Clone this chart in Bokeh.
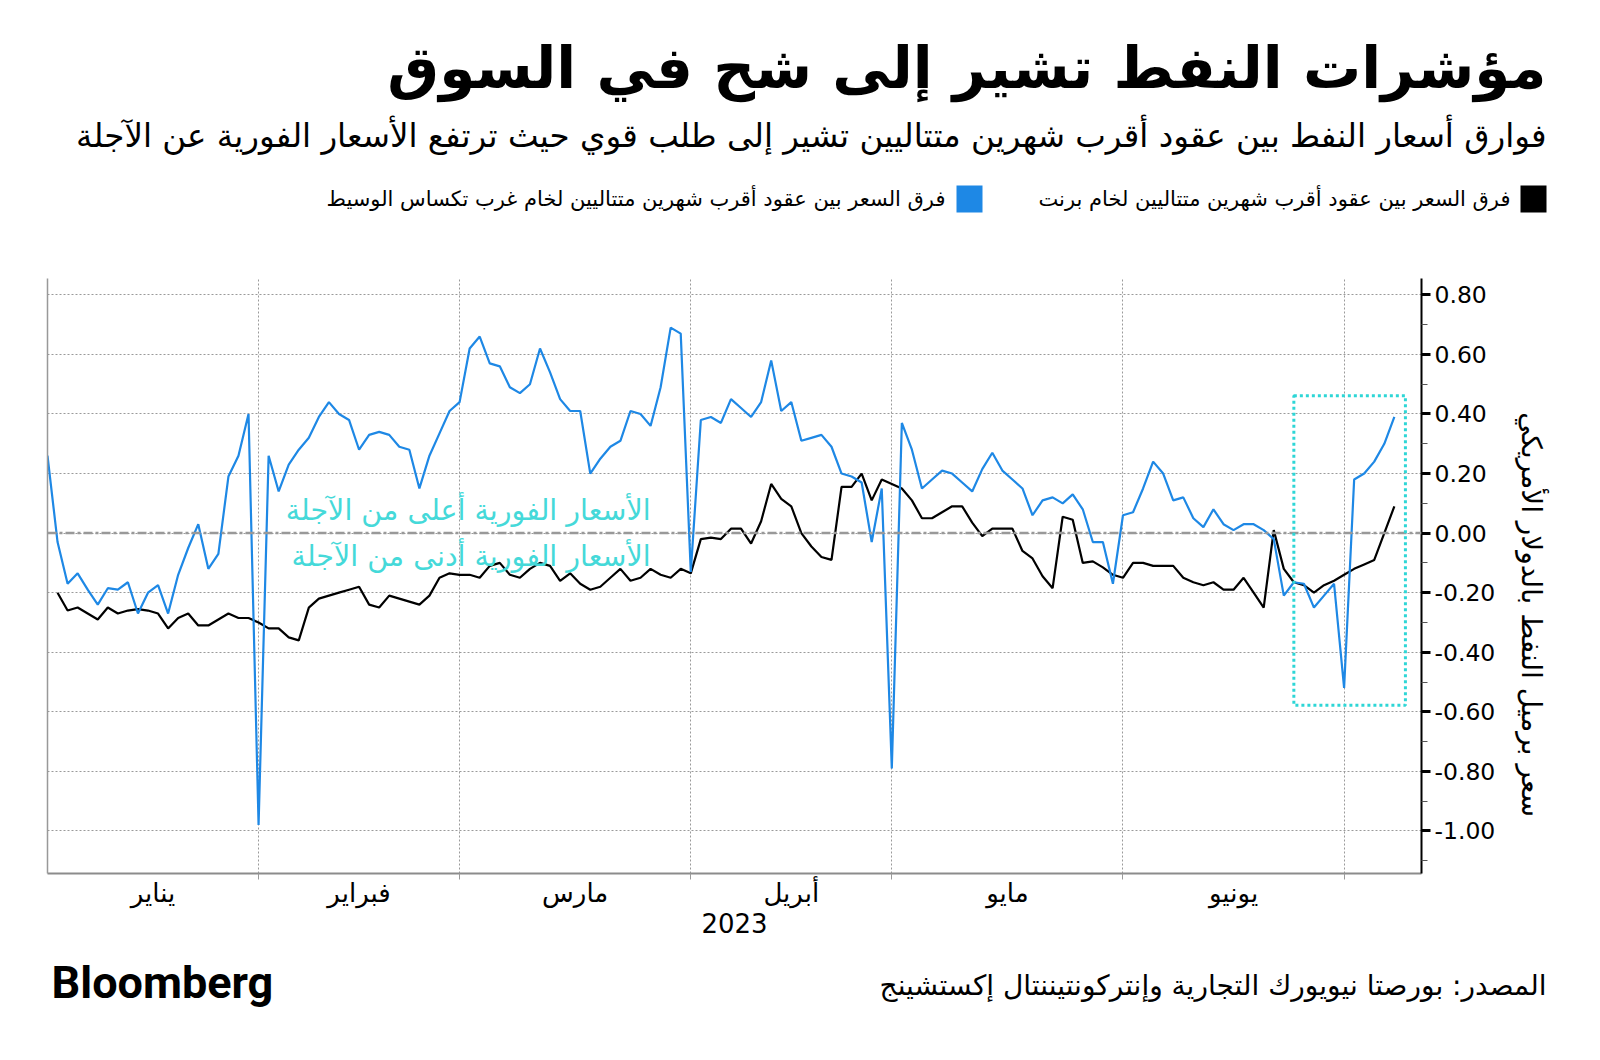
import numpy as np
import pandas as pd
from bokeh.plotting import figure
from bokeh.layouts import column, row
from bokeh.models import (Range1d, LinearAxis, FixedTicker, NumeralTickFormatter,
                          Span, BoxAnnotation, Label)
from bokeh.embed import file_html
from bokeh.resources import INLINE

# ---------------- data ----------------
wti_start = "2023-01-03"
wti = [0.26, -0.03, -0.17, -0.135, -0.19, -0.24, -0.185, -0.19, -0.165, -0.27,
       -0.20, -0.175, -0.27, -0.14, -0.05, 0.03, -0.12, -0.07, 0.19, 0.26,
       0.40, -0.98, 0.26, 0.14, 0.23, 0.28, 0.32, 0.39, 0.44, 0.40,
       0.38, 0.28, 0.33, 0.34, 0.33, 0.29, 0.28, 0.15, 0.26, 0.335,
       0.41, 0.44, 0.62, 0.66, 0.57, 0.56, 0.49, 0.47, 0.50, 0.62,
       0.54, 0.45, 0.41, 0.41, 0.20, 0.25, 0.29, 0.31, 0.41, 0.40,
       0.36, 0.49, 0.69, 0.67, -0.13, 0.38, 0.39, 0.37, 0.45, 0.42,
       0.39, 0.44, 0.58, 0.41, 0.44, 0.31, 0.32, 0.33, 0.29, 0.20,
       0.19, 0.17, -0.03, 0.15, -0.79, 0.37, 0.28, 0.15, 0.18, 0.21,
       0.20, 0.17, 0.14, 0.215, 0.27, 0.21, 0.18, 0.15, 0.06, 0.11,
       0.12, 0.10, 0.13, 0.08, -0.03, -0.03, -0.17, 0.06, 0.07, 0.15,
       0.24, 0.20, 0.11, 0.12, 0.05, 0.02, 0.08, 0.03, 0.01, 0.03,
       0.03, 0.01, -0.02, -0.21, -0.165, -0.17, -0.25, -0.21, -0.17, -0.52,
       0.18, 0.20, 0.24, 0.30, 0.39]

brent_start = "2023-01-04"
brent = [-0.20, -0.26, -0.25, -0.27, -0.29, -0.25, -0.27, -0.26, -0.255, -0.26,
         -0.27, -0.32, -0.285, -0.27, -0.31, -0.31, -0.29, -0.27, -0.285, -0.285,
         -0.30, -0.32, -0.32, -0.35, -0.36, -0.25, -0.22, -0.21, -0.20, -0.19,
         -0.18, -0.24, -0.25, -0.21, -0.22, -0.23, -0.24, -0.21, -0.15, -0.135,
         -0.14, -0.14, -0.15, -0.11, -0.10, -0.14, -0.15, -0.12, -0.10, -0.11,
         -0.16, -0.135, -0.17, -0.19, -0.18, -0.15, -0.12, -0.16, -0.15, -0.12,
         -0.14, -0.15, -0.12, -0.135, -0.02, -0.015, -0.02, 0.015, 0.015, -0.035,
         0.04, 0.165, 0.115, 0.09, 0.00, -0.045, -0.08, -0.09, 0.155, 0.155,
         0.20, 0.11, 0.18, 0.165, 0.15, 0.11, 0.05, 0.05, 0.07, 0.09,
         0.09, 0.035, -0.01, 0.015, 0.015, 0.015, -0.06, -0.085, -0.145, -0.185,
         0.055, 0.045, -0.10, -0.095, -0.115, -0.14, -0.15, -0.10, -0.10, -0.11,
         -0.11, -0.11, -0.15, -0.165, -0.175, -0.165, -0.19, -0.19, -0.15, -0.20,
         -0.25, 0.01, -0.12, -0.165, -0.175, -0.20, -0.175, -0.16, -0.14, -0.12,
         -0.105, -0.09, 0.00, 0.09]

month_names = ["يناير", "فبراير", "مارس", "أبريل", "مايو", "يونيو"]
month_starts = ["2023-01-02", "2023-02-01", "2023-03-01", "2023-04-01",
                "2023-05-01", "2023-06-01", "2023-07-01"]
year_label = "2023"
y_ticks = [-1.0, -0.8, -0.6, -0.4, -0.2, 0.0, 0.2, 0.4, 0.6, 0.8]
y_minor = [-1.1, -0.9, -0.7, -0.5, -0.3, -0.1, 0.1, 0.3, 0.5, 0.7]

# highlight window (dates, value span)
box_dates = ["2023-06-26", "2023-07-11"]
box_values = [-0.578, 0.461]

title = "مؤشرات النفط تشير إلى شح في السوق"
subtitle = "فوارق أسعار النفط بين عقود أقرب شهرين متتاليين تشير إلى طلب قوي حيث ترتفع الأسعار الفورية عن الآجلة"
legend_brent = "فرق السعر بين عقود أقرب شهرين متتاليين لخام برنت"
legend_wti = "فرق السعر بين عقود أقرب شهرين متتاليين لخام غرب تكساس الوسيط"
y_label = "سعر برميل النفط بالدولار الأمريكي"
note_above = "الأسعار الفورية أعلى من الآجلة"
note_below = "الأسعار الفورية أدنى من الآجلة"
source = "المصدر: بورصتا نيويورك التجارية وإنتركونتيننتال إكستشينج"

# ---------------- business-day scale ----------------
ORIGIN = np.datetime64("2023-01-02")


def bday(d):
    return np.busday_count(ORIGIN, np.asarray(d, dtype="datetime64[D]"))


wti_x = bday(pd.bdate_range(wti_start, periods=len(wti)).values.astype("datetime64[D]"))
brent_x = bday(pd.bdate_range(brent_start, periods=len(brent)).values.astype("datetime64[D]"))
starts = [int(v) for v in bday(month_starts)]
x_lo = float(wti_x[0])
edges = [max(float(s), x_lo) for s in starts]
centers = [(edges[k] + edges[k + 1]) / 2 for k in range(len(month_names))]

BLUE = "#1E88E5"
TURQ = "#45D9D9"
BOX = "#2ED6D6"
GRID = "#9a9a9a"
AR = "DejaVu Sans"

W = 1584
HEAD_H = 250
MAIN_W, MAIN_H = 1510, 703
SIDE_W = W - MAIN_W
FOOT_H = 91


def blank(width, height):
    f = figure(width=width, height=height, x_range=Range1d(0, width), y_range=Range1d(height, 0),
               x_axis_type=None, y_axis_type=None, output_backend="svg", toolbar_location=None,
               min_border=0, outline_line_color=None, background_fill_color="white",
               border_fill_color="white")
    f.grid.visible = False
    return f


def put(f, text, x, y, size, align="right", color="black", bold=False, angle=0.0, font=AR):
    f.add_layout(Label(x=x, y=y, text=text, text_align=align, text_baseline="middle",
                       text_font=font, text_font_size=size, text_color=color,
                       text_font_style="bold" if bold else "normal", angle=angle))


# ---------------- header ----------------
head = blank(W, HEAD_H)
put(head, title, 1546, 67, "58px", bold=True)
put(head, subtitle, 1546, 135, "32.5px")
head.quad(left=[1520, 956], right=[1546, 982], top=[185, 185], bottom=[212, 212],
          fill_color=["black", BLUE], line_color=None)
put(head, legend_brent, 1510, 198, "21px")
put(head, legend_wti, 945, 198, "21px")

# ---------------- main chart ----------------
p = figure(width=MAIN_W, height=MAIN_H,
           x_range=Range1d(x_lo, float(wti_x[-1]) + 2.7),
           y_range=Range1d(-1.143, 0.855),
           y_axis_location="right", output_backend="svg", toolbar_location=None,
           min_border_left=47, min_border_right=MAIN_W - 1421, min_border_top=28,
           min_border_bottom=80,
           outline_line_color=None, background_fill_color="white", border_fill_color="white")

p.xgrid.ticker = FixedTicker(ticks=starts[1:])
p.xgrid.grid_line_color = GRID
p.xgrid.grid_line_dash = "2 2"
p.ygrid.ticker = FixedTicker(ticks=y_ticks)
p.ygrid.grid_line_color = GRID
p.ygrid.grid_line_dash = "2 2"

ya = p.yaxis[0]
ya.ticker = FixedTicker(ticks=y_ticks, minor_ticks=y_minor)
ya.formatter = NumeralTickFormatter(format="0.00")
ya.axis_line_color = "black"
ya.axis_line_width = 2
ya.major_tick_in = 0
ya.major_tick_out = 9
ya.major_tick_line_width = 3
ya.minor_tick_in = 0
ya.minor_tick_out = 6
ya.minor_tick_line_color = "#555555"
ya.major_label_standoff = 4
ya.major_label_text_font = AR
ya.major_label_text_font_size = "23.5px"
ya.major_label_text_color = "black"

left = LinearAxis(ticker=FixedTicker(ticks=[]), axis_line_color="#999999", axis_line_width=1.5,
                  major_tick_line_color=None, minor_tick_line_color=None,
                  major_label_text_font_size="0px")
p.add_layout(left, "left")

xa = p.xaxis[0]
xa.ticker = FixedTicker(ticks=centers, minor_ticks=starts[1:])
xa.major_label_overrides = {c: n for c, n in zip(centers, month_names)}
xa.axis_line_color = "#8c8c8c"
xa.axis_line_width = 2
xa.major_tick_line_color = None
xa.minor_tick_in = 0
xa.minor_tick_out = 6
xa.minor_tick_line_color = GRID
xa.major_label_standoff = -2
xa.major_label_text_font = AR
xa.major_label_text_font_size = "26px"
xa.major_label_text_color = "black"
xa.axis_label = year_label
xa.axis_label_text_font = AR
xa.axis_label_text_font_style = "normal"
xa.axis_label_text_font_size = "26px"
xa.axis_label_text_color = "black"
xa.axis_label_standoff = 2

p.add_layout(Span(location=0, dimension="width", line_color="#999999",
                  line_width=2.5, line_dash="9 3 3 3"))

bx = bday(box_dates)
p.add_layout(BoxAnnotation(left=float(bx[0]), right=float(bx[1]) + 0.1,
                           bottom=box_values[0], top=box_values[1],
                           fill_alpha=0, line_color=BOX, line_alpha=1.0,
                           line_width=3, line_dash="3 3"))

p.line(brent_x, brent, line_color="black", line_width=2.2)
p.line(wti_x, wti, line_color=BLUE, line_width=2.2)

p.add_layout(Label(x=61, y=0.075, text=note_above, text_align="right", text_baseline="middle",
                   text_font=AR, text_font_size="28.5px", text_color=TURQ))
p.add_layout(Label(x=61, y=-0.079, text=note_below, text_align="right", text_baseline="middle",
                   text_font=AR, text_font_size="28.5px", text_color=TURQ))

# ---------------- side (axis title) ----------------
side = blank(SIDE_W, MAIN_H)
put(side, y_label, 21, 397, "28px", align="center", angle=-np.pi / 2)

# ---------------- footer ----------------
foot = blank(W, FOOT_H)
put(foot, source, 1546, 32, "28px")
put(foot, "Bloomberg", 51, 29, "45px", align="left", bold=True, font="Roboto")

layout = column(head, row(p, side, spacing=0), foot, spacing=0)
open("out.html", "w").write(file_html(layout, INLINE))
